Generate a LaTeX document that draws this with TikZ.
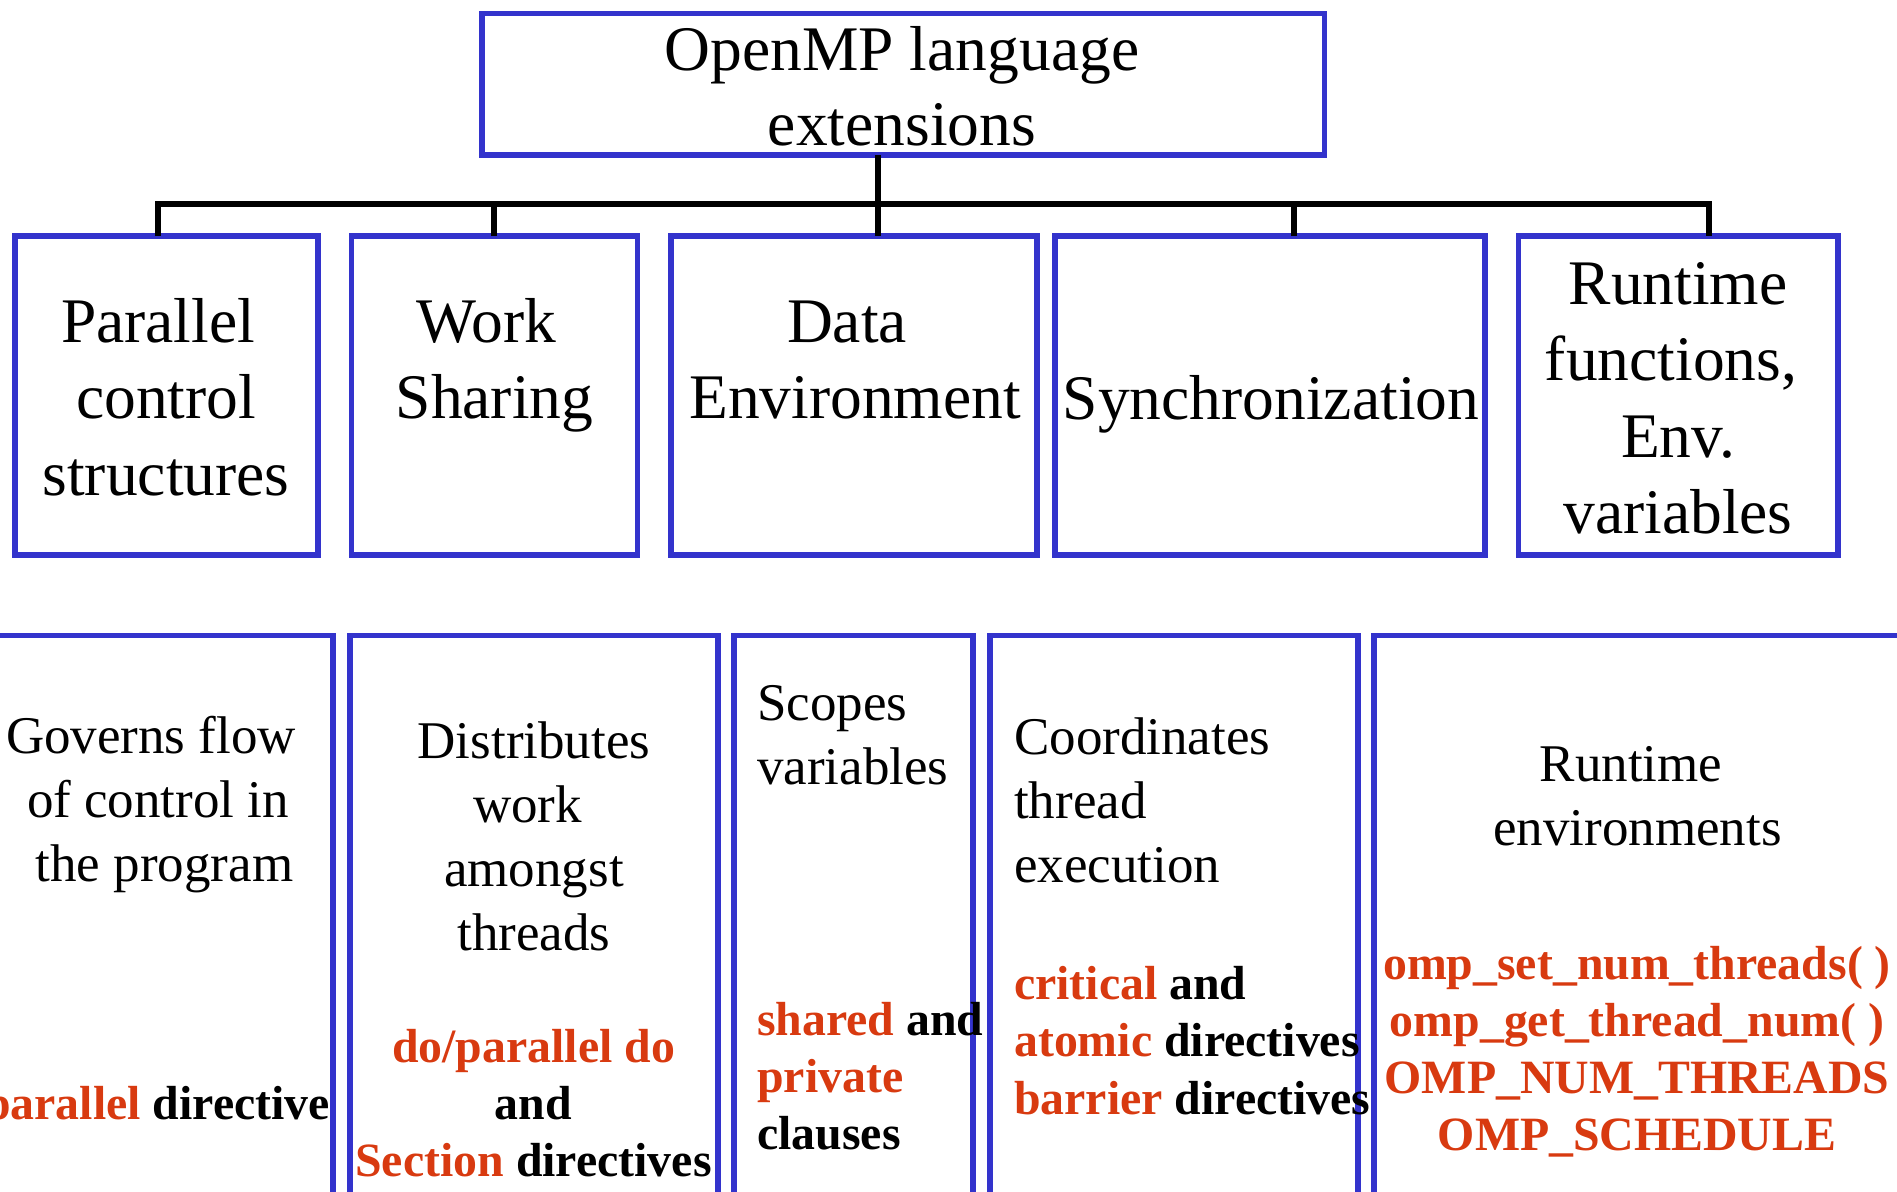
\documentclass[tikz,border=0pt]{standalone}
\usepackage{fontspec}
\setmainfont{Liberation Serif}
\definecolor{boxblue}{HTML}{3333CC}
\definecolor{kwred}{HTML}{D83A10}
\newcommand\kwr[1]{\textcolor{kwred}{#1}}
\begin{document}
\begin{tikzpicture}[x=1pt,y=-1pt,
  box/.style={draw=boxblue, line width=5.7pt, rectangle, inner sep=0pt, outer sep=0pt},
  link/.style={draw=black, line width=5.7pt},
  head/.style={font=\fontsize{63.5}{75}\selectfont, align=center, anchor=base, inner sep=0pt},
  cat/.style={font=\fontsize{63.5}{76.5}\selectfont, align=center, anchor=base, inner sep=0pt},
  desc/.style={font=\fontsize{53}{64}\selectfont, anchor=base, inner sep=0pt},
  kw/.style={font=\bfseries\fontsize{47.8}{57.3}\selectfont, anchor=base, inner sep=0pt},
]
\useasboundingbox (0,0) rectangle (1897,1191);
\clip (0,0) rectangle (1897,1191);

% root (multi-line text nodes are placed by the baseline of their last line)
\node[box, minimum width=842.5pt, minimum height=141.5pt] (top) at (903.25,84.25) {};
\node[head] (topt) at (902,145) {OpenMP language\\extensions};

% categories
\node[box, minimum width=303pt,   minimum height=319pt] (par) at (166.5,395.5) {};
\node[box, minimum width=286pt,   minimum height=319pt] (ws)  at (494.5,395.5) {};
\node[box, minimum width=365.7pt, minimum height=319pt] (de)  at (853.85,395.5) {};
\node[box, minimum width=430pt,   minimum height=319pt] (sy)  at (1270,395.5) {};
\node[box, minimum width=319.5pt, minimum height=319pt] (rt)  at (1678.25,395.5) {};

\node[cat] (part) at (166,495) {Parallel\kern16pt\\control\\structures};
\node[cat] (wst)  at (494.5,418.5) {Work\kern16pt\\Sharing};
\node[cat] (det)  at (855,418.5) {Data\kern16pt\\Environment};
\node[cat] (syt)  at (1271,419) {Synchronization};
\node[cat] (rtt)  at (1678,533.5) {Runtime\\functions,\kern14pt\\Env.\\variables};

% tree connectors
\coordinate (stem) at (878,204);
\coordinate (j1) at (158,204);
\coordinate (j2) at (494,204);
\coordinate (j4) at (1294,204);
\coordinate (j5) at (1709,204);
\draw[link] (top.south -| stem) -- (de.north -| stem);
\draw[link] (par.north -| j1) -- (j1) -- (j5) -- (rt.north -| j5);
\draw[link] (ws.north -| j2) -- (j2);
\draw[link] (sy.north -| j4) -- (j4);

% description columns
\node[box, minimum width=383pt, minimum height=664.5pt] (d1) at (141.5,967.75) {};
\node[box, minimum width=368pt, minimum height=664.5pt] (d2) at (534,967.75) {};
\node[box, minimum width=239pt, minimum height=664.5pt] (d3) at (853.5,967.75) {};
\node[box, minimum width=368pt, minimum height=664.5pt] (d4) at (1174,967.75) {};
\node[box, minimum width=576pt, minimum height=664.5pt] (d5) at (1662,967.75) {};

\node[desc, align=center] (d1a) at (164.5,881) {Governs flow\kern27pt\\of control in\kern13pt\\the program};
\node[kw, anchor=base east] (d1b) at (330,1119) {\kwr{parallel} directive};

\node[desc, align=center] (d2a) at (534,950) {Distributes\\work\kern13pt\\amongst\\threads};
\node[kw, align=center] (d2b) at (533.5,1176.6) {\kwr{do/parallel do}\\and\\\kwr{Section} directives};

\node[desc, align=left, anchor=base west] (d3a) at (757,784) {Scopes\\variables};
\node[kw, align=left, anchor=base west] (d3b) at (757,1149.6) {\kwr{shared} and\\\kwr{private}\\clauses};

\node[desc, align=left, anchor=base west] (d4a) at (1014,882.5) {Coordinates\\thread\\execution};
\node[kw, align=left, anchor=base west] (d4b) at (1014,1114.1) {\kwr{critical} and\\\kwr{atomic} directives\\\kwr{barrier} directives};

\node[desc, align=center] (d5a) at (1637.5,845) {Runtime\kern13pt\\environments};
\node[kw, align=center, text=kwred] (d5b) at (1637,1150.9) {omp\_set\_num\_threads( )\\omp\_get\_thread\_num( )\\OMP\_NUM\_THREADS\\OMP\_SCHEDULE};
\end{tikzpicture}
\end{document}
